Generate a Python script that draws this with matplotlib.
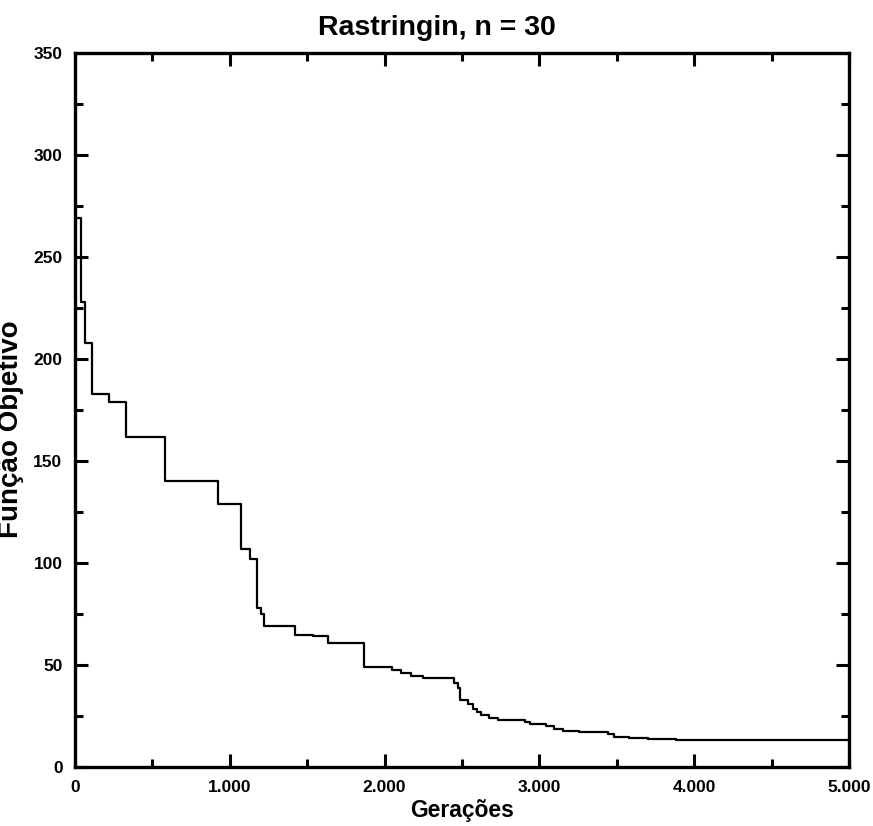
import matplotlib
matplotlib.use("Agg")
import matplotlib.pyplot as plt
from matplotlib.ticker import MultipleLocator, FuncFormatter

# generation where each new best value starts, and the best value
generations = [0, 41, 65, 112, 221, 329, 581, 925, 1075, 1129, 1176, 1200, 1219,
               1419, 1540, 1634, 1866, 2050, 2108, 2172, 2247, 2450, 2473, 2484,
               2538, 2570, 2600, 2624, 2677, 2731, 2910, 2940, 3043, 3097, 3150,
               3258, 3440, 3484, 3581, 3700, 3882, 5000]
best_value = [269, 228, 208, 183, 179, 162, 140, 129, 107, 102, 78, 75, 69,
              64.5, 64, 61, 49, 47.5, 46, 44.5, 43.4, 41, 38.5, 33,
              31, 28.6, 27, 25.4, 24, 23.2, 22, 21.2, 20.2, 18.8, 17.8,
              17, 16.2, 14.8, 14, 13.6, 13.1, 13]

plt.rcParams["font.family"] = ["Liberation Sans", "DejaVu Sans"]
plt.rcParams["font.weight"] = "bold"

fig = plt.figure(figsize=(8.73, 8.26), dpi=100)
ax = fig.add_axes([75 / 873, 1 - 767 / 826, 774 / 873, 714 / 826])

ax.step(generations, best_value, where="post", color="black", linewidth=1.6)

ax.set_xlim(0, 5000)
ax.set_ylim(0, 350)
ax.xaxis.set_major_locator(MultipleLocator(1000))
ax.xaxis.set_minor_locator(MultipleLocator(500))
ax.yaxis.set_major_locator(MultipleLocator(50))
ax.yaxis.set_minor_locator(MultipleLocator(25))
ax.xaxis.set_major_formatter(FuncFormatter(lambda v, p: f"{int(v):,}".replace(",", ".")))

ax.tick_params(which="both", direction="in", top=True, right=True, width=2.2,
               labelsize=12.5)
ax.tick_params(which="major", length=9.5, pad=9)
ax.tick_params(which="minor", length=6)
for lab in ax.get_xticklabels() + ax.get_yticklabels():
    lab.set_fontweight("bold")
for s in ax.spines.values():
    s.set_linewidth(2.4)

ax.set_xlabel("Gerações", fontsize=16.5, fontweight="bold", labelpad=3)
fig.text(-0.002, 1 - 429 / 826, "Função Objetivo", rotation=90, fontsize=20,
         fontweight="bold", ha="left", va="center")
fig.text(0.5, 1 - 35 / 826, "Rastringin, n = 30", fontsize=20.5, fontweight="bold",
         ha="center", va="baseline")

fig.savefig("out.png", dpi=100)
